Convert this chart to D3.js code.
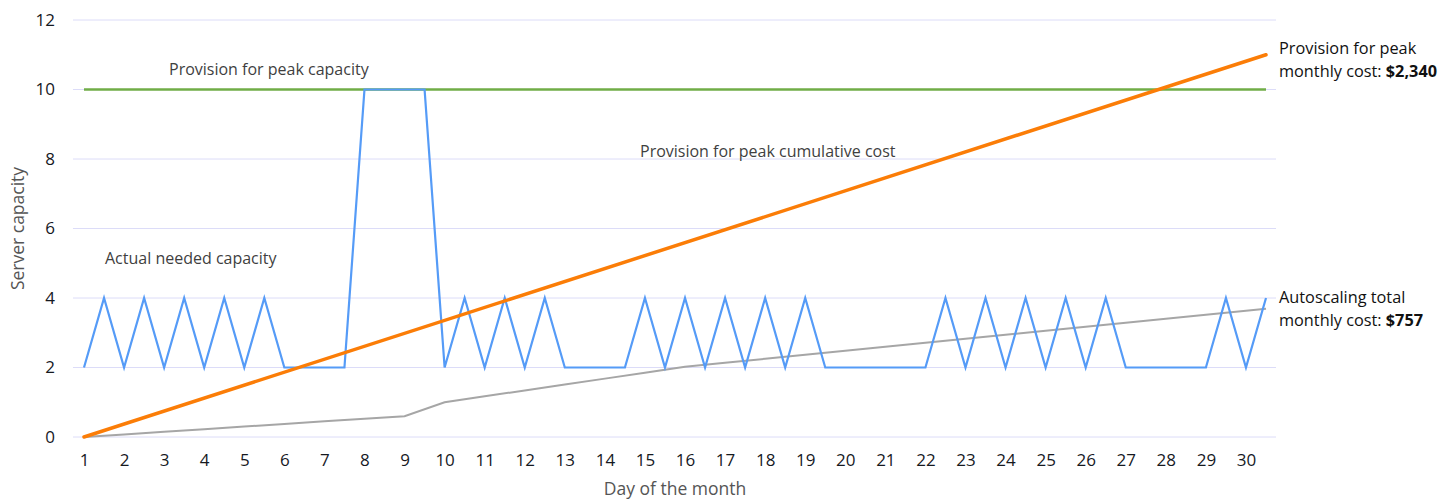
<!DOCTYPE html>
<html>
<head>
<meta charset="utf-8">
<script src="https://cdn.jsdelivr.net/npm/d3@7"></script>
<style>
  html, body { margin: 0; padding: 0; background: #fff; }
  svg { display: block; font-family: "Open Sans", "Noto Sans", sans-serif; }
</style>
</head>
<body>
<svg id="chart" width="1455" height="500"></svg>
<script>
// Half-day sample positions (day of the month)
const days = [1,1.5,2,2.5,3,3.5,4,4.5,5,5.5,6,6.5,7,7.5,8,8.5,9,9.5,10,10.5,
  11,11.5,12,12.5,13,13.5,14,14.5,15,15.5,16,16.5,17,17.5,18,18.5,19,19.5,20,20.5,
  21,21.5,22,22.5,23,23.5,24,24.5,25,25.5,26,26.5,27,27.5,28,28.5,29,29.5,30,30.5];

// Actual needed capacity (servers)
const neededCapacity = [2,4,2,4,2,4,2,4,2,4,2,2,2,2,10,10,10,10,2,4,
  2,4,2,4,2,2,2,2,4,2,4,2,4,2,4,2,4,2,2,2,
  2,2,2,4,2,4,2,4,2,4,2,4,2,2,2,2,2,4,2,4];

// Provisioned for peak: flat capacity
const peakDays = [1, 30.5];
const peakCapacity = [10, 10];

// Provision for peak cumulative cost (scaled to capacity axis)
const peakCostDays = [1, 30.5];
const peakCost = [0, 11];

// Autoscaling cumulative cost (scaled to capacity axis)
const autoDays = [1,2,3,4,5,6,7,8,9,10,11,12,13,14,15,16,17,18,19,20,
  21,22,23,24,25,26,27,28,29,30,30.5];
const autoCost = [0,0.075,0.15,0.225,0.30,0.375,0.45,0.525,0.60,1.00,1.17,1.34,1.51,1.68,1.85,2.02,2.14,2.25,2.37,2.48,
  2.60,2.71,2.83,2.94,3.06,3.17,3.29,3.40,3.52,3.63,3.69];

const xTicks = d3.range(1, 31);
const yTicks = [0, 2, 4, 6, 8, 10, 12];

const svg = d3.select("#chart");

const x = d3.scaleLinear().domain([1, 30.5]).range([84, 1266]);
const y = d3.scaleLinear().domain([0, 12]).range([437, 20]);

// Horizontal gridlines
svg.append("g")
  .selectAll("line")
  .data(yTicks)
  .join("line")
  .attr("x1", x(0.725)).attr("x2", x(30.75))
  .attr("y1", d => y(d)).attr("y2", d => y(d))
  .attr("stroke", "#dcdcf8")
  .attr("stroke-width", 1);

// Y axis labels
const yAxis = svg.append("g")
  .attr("transform", `translate(${x(0.725) - 18},0)`)
  .call(d3.axisLeft(y).tickValues(yTicks).tickSize(0).tickPadding(0));
yAxis.select(".domain").remove();
yAxis.selectAll("text")
  .attr("font-size", 17)
  .attr("font-family", "'Open Sans', sans-serif")
  .attr("fill", "#16191f");

// X axis labels
const xAxis = svg.append("g")
  .attr("transform", `translate(0,${y(0) + 17})`)
  .call(d3.axisBottom(x).tickValues(xTicks).tickSize(0).tickPadding(0).tickFormat(d3.format("d")));
xAxis.select(".domain").remove();
xAxis.selectAll("text")
  .attr("font-size", 17)
  .attr("font-family", "'Open Sans', sans-serif")
  .attr("fill", "#16191f");

// Axis titles
svg.append("text")
  .attr("transform", `translate(24,${(y(0) + y(12)) / 2}) rotate(-90)`)
  .attr("text-anchor", "middle")
  .attr("font-size", 17.5)
  .attr("fill", "#555")
  .text("Server capacity");

svg.append("text")
  .attr("x", 675).attr("y", 495)
  .attr("text-anchor", "middle")
  .attr("font-size", 17.5)
  .attr("fill", "#555")
  .text("Day of the month");

const line = d3.line().x(d => x(d[0])).y(d => y(d[1]));

// Autoscaling cumulative cost
svg.append("path")
  .datum(d3.zip(autoDays, autoCost))
  .attr("d", line)
  .attr("fill", "none")
  .attr("stroke", "#a6a6a6")
  .attr("stroke-width", 2);

// Peak provisioned capacity
svg.append("path")
  .datum(d3.zip(peakDays, peakCapacity))
  .attr("d", line)
  .attr("fill", "none")
  .attr("stroke", "#70ad47")
  .attr("stroke-width", 2.5);

// Actual needed capacity
svg.append("path")
  .datum(d3.zip(days, neededCapacity))
  .attr("d", line)
  .attr("fill", "none")
  .attr("stroke", "#559bf7")
  .attr("stroke-width", 2.2)
  .attr("stroke-linejoin", "miter");

// Peak provision cumulative cost
svg.append("path")
  .datum(d3.zip(peakCostDays, peakCost))
  .attr("d", line)
  .attr("fill", "none")
  .attr("stroke", "#fb7d07")
  .attr("stroke-width", 3.5)
  .attr("stroke-linecap", "round");

// Series annotations
const notes = [
  { text: "Provision for peak capacity", x: 169, y: 75 },
  { text: "Actual needed capacity", x: 105, y: 264 },
  { text: "Provision for peak cumulative cost", x: 640, y: 157 }
];
svg.append("g")
  .selectAll("text")
  .data(notes)
  .join("text")
  .attr("x", d => d.x).attr("y", d => d.y)
  .attr("font-size", 16)
  .attr("fill", "#3f3f3f")
  .text(d => d.text);

// Monthly cost callouts
function callout(x0, y0, line1, prefix, value) {
  const g = svg.append("g").attr("font-size", 16.3).attr("fill", "#111");
  g.append("text").attr("x", x0).attr("y", y0).text(line1);
  const t = g.append("text").attr("x", x0).attr("y", y0 + 23);
  t.append("tspan").text(prefix);
  t.append("tspan").attr("font-weight", "bold").text(value);
}
callout(1279, 54, "Provision for peak", "monthly cost: ", "$2,340");
callout(1279, 303, "Autoscaling total", "monthly cost: ", "$757");
</script>
</body>
</html>
